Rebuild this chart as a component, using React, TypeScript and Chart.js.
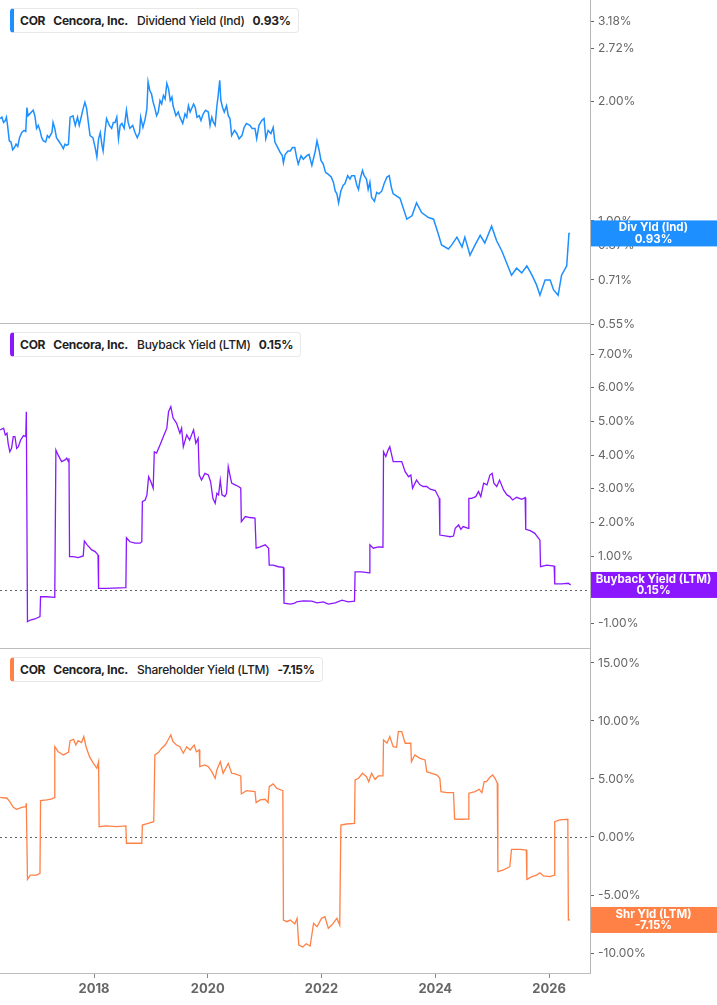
import React, { useEffect, useRef } from "react";
import { Chart, registerables } from "chart.js";

Chart.register(...registerables);

const FONT = "Inter, 'Noto Sans', sans-serif";
const TICKER = "COR";
const COMPANY = "Cencora, Inc.";

// x axis (decimal years)
const xMin = 2016.347;
const xMax = 2026.72;
const yearTicks = [2018, 2020, 2022, 2024, 2026];

// Dividend Yield (Ind), %
const dividendDates = [
  2016.35, 2016.38, 2016.41, 2016.44, 2016.46, 2016.48, 2016.51, 2016.54, 2016.57, 2016.6,
  2016.63, 2016.66, 2016.69, 2016.73, 2016.77, 2016.8, 2016.82, 2016.84, 2016.87, 2016.9,
  2016.93, 2016.96, 2016.99, 2017.02, 2017.05, 2017.08, 2017.11, 2017.15, 2017.18, 2017.21,
  2017.26, 2017.28, 2017.31, 2017.34, 2017.39, 2017.43, 2017.46, 2017.49, 2017.52, 2017.55,
  2017.58, 2017.63, 2017.67, 2017.71, 2017.74, 2017.78, 2017.81, 2017.84, 2017.87, 2017.9,
  2017.93, 2017.98, 2018.02, 2018.05, 2018.08, 2018.11, 2018.14, 2018.16, 2018.19, 2018.22,
  2018.27, 2018.31, 2018.34, 2018.37, 2018.4, 2018.43, 2018.46, 2018.49, 2018.53, 2018.57,
  2018.6, 2018.63, 2018.68, 2018.72, 2018.76, 2018.8, 2018.82, 2018.86, 2018.9, 2018.93,
  2018.95, 2018.98, 2019.01, 2019.04, 2019.07, 2019.1, 2019.13, 2019.16, 2019.19, 2019.22,
  2019.25, 2019.28, 2019.31, 2019.34, 2019.37, 2019.39, 2019.44, 2019.48, 2019.51, 2019.56,
  2019.6, 2019.63, 2019.66, 2019.69, 2019.75,
  2019.78, 2019.81, 2019.85, 2019.88, 2019.92, 2019.96, 2020.01, 2020.04, 2020.07, 2020.1,
  2020.13, 2020.16, 2020.18, 2020.21, 2020.23, 2020.26, 2020.29, 2020.33, 2020.36, 2020.39,
  2020.42, 2020.47, 2020.51, 2020.55, 2020.6, 2020.64, 2020.68, 2020.74, 2020.78, 2020.83,
  2020.86, 2020.9, 2020.95, 2020.99, 2021.02, 2021.06, 2021.11, 2021.15, 2021.18, 2021.23,
  2021.27, 2021.31, 2021.33, 2021.36, 2021.41, 2021.45, 2021.49, 2021.53, 2021.56, 2021.59,
  2021.64, 2021.68, 2021.74, 2021.78, 2021.83, 2021.89, 2021.92, 2021.96, 2021.99, 2022.03,
  2022.07, 2022.12, 2022.17, 2022.21, 2022.24, 2022.27, 2022.3, 2022.34, 2022.38, 2022.41,
  2022.46, 2022.5, 2022.53, 2022.58, 2022.62, 2022.65, 2022.68, 2022.72, 2022.75, 2022.79,
  2022.82, 2022.85, 2022.88, 2022.93, 2022.97, 2023.01, 2023.06, 2023.1, 2023.15, 2023.19,
  2023.23, 2023.26,
  2023.38, 2023.5, 2023.59, 2023.67, 2023.76, 2023.88, 2023.97, 2024.05, 2024.11, 2024.23,
  2024.29, 2024.38, 2024.47, 2024.52, 2024.61, 2024.7, 2024.79, 2024.87, 2024.99, 2025.08,
  2025.17, 2025.26, 2025.34, 2025.43, 2025.52, 2025.61, 2025.7, 2025.78, 2025.84, 2025.93,
  2026.02, 2026.08, 2026.16, 2026.22, 2026.31, 2026.35, 2026.37,
];
const dividendValues = [
  1.81, 1.825, 1.77, 1.79, 1.825, 1.74, 1.59, 1.58, 1.51, 1.53,
  1.56, 1.54, 1.62, 1.67, 1.69, 1.68, 1.93, 1.84, 1.86, 1.88,
  1.9, 1.84, 1.71, 1.74, 1.69, 1.62, 1.59, 1.58, 1.64, 1.62,
  1.67, 1.77, 1.71, 1.62, 1.58, 1.55, 1.52, 1.56, 1.55, 1.56,
  1.825, 1.84, 1.74, 1.825, 1.74, 1.84, 1.92, 1.99, 1.92, 1.77,
  1.64, 1.62, 1.53, 1.45, 1.61, 1.67, 1.55, 1.5, 1.66, 1.81,
  1.74, 1.71, 1.77, 1.77, 1.825, 1.61, 1.74, 1.76, 1.71, 1.9,
  1.77, 1.71, 1.74, 1.67, 1.62, 1.67, 1.825, 1.72, 1.81, 1.92,
  2.24, 2.13, 2.09, 1.99, 1.92, 1.84, 1.88, 2.01, 1.97, 2.07,
  2.03, 2.22, 2.15, 2.01, 2.05, 1.95, 1.84, 1.88, 1.825, 1.76,
  1.86, 1.825, 1.95, 1.88, 1.97,
  1.93, 1.825, 1.84, 1.79, 1.86, 1.9, 1.88, 1.74, 1.825, 1.77,
  1.74, 1.95, 2.05, 2.26, 2.01, 1.93, 1.88, 1.95, 1.84, 1.81,
  1.64, 1.69, 1.66, 1.61, 1.64, 1.72, 1.76, 1.74, 1.71, 1.71,
  1.61, 1.74, 1.79, 1.81, 1.61, 1.69, 1.66, 1.72, 1.58, 1.53,
  1.49, 1.46, 1.4, 1.47, 1.5, 1.5, 1.53, 1.53, 1.45, 1.39,
  1.46, 1.43, 1.46, 1.47, 1.38, 1.5, 1.59, 1.5, 1.42, 1.39,
  1.325, 1.31, 1.29, 1.25, 1.19, 1.17, 1.11, 1.19, 1.23, 1.24,
  1.3, 1.275, 1.3, 1.3, 1.23, 1.2, 1.275, 1.34, 1.3, 1.275,
  1.2, 1.25, 1.145, 1.12, 1.18, 1.17, 1.19, 1.24, 1.29, 1.3,
  1.21, 1.17,
  1.14, 1.01, 1.03, 1.11, 1.05, 1.02, 1.01, 0.93, 0.87, 0.85,
  0.87, 0.91, 0.86, 0.91, 0.82, 0.87, 0.92, 0.88, 0.97, 0.89,
  0.84, 0.78, 0.73, 0.76, 0.74, 0.77, 0.73, 0.69, 0.65, 0.71,
  0.71, 0.67, 0.65, 0.73, 0.77, 0.93, 0.93,
];
const dividendTicks = [0.55, 0.71, 0.87, 1.0, 2.0, 2.72, 3.18];

// Buyback Yield (LTM), %
const buybackDates = [
  2016.35, 2016.41, 2016.44, 2016.47, 2016.49, 2016.52, 2016.55, 2016.58, 2016.61, 2016.64,
  2016.67, 2016.71, 2016.76, 2016.8, 2016.81, 2016.83, 2016.88, 2016.96, 2017.05, 2017.06,
  2017.17, 2017.31, 2017.33, 2017.37, 2017.43, 2017.49, 2017.52, 2017.55, 2017.56, 2017.57,
  2017.64, 2017.72, 2017.81, 2017.83, 2017.88, 2017.96, 2018.02, 2018.07, 2018.08, 2018.22,
  2018.56, 2018.57, 2018.63, 2018.72, 2018.81, 2018.84, 2018.85, 2018.9, 2018.93, 2018.96,
  2019.0, 2019.04, 2019.06, 2019.1, 2019.16, 2019.22, 2019.28, 2019.31, 2019.35, 2019.39,
  2019.45, 2019.51, 2019.54, 2019.57, 2019.63, 2019.68, 2019.75, 2019.79, 2019.83, 2019.85,
  2019.89, 2019.95, 2020.01, 2020.05, 2020.09, 2020.13, 2020.16, 2020.19, 2020.22, 2020.25,
  2020.3, 2020.33, 2020.36, 2020.39, 2020.42, 2020.48, 2020.54, 2020.58, 2020.59, 2020.66,
  2020.74, 2020.83, 2020.85, 2020.92, 2021.01, 2021.07, 2021.08, 2021.15, 2021.24, 2021.33,
  2021.34, 2021.45, 2021.53, 2021.56, 2021.68, 2021.83, 2021.92, 2022.03, 2022.12, 2022.24,
  2022.36, 2022.47, 2022.58, 2022.59, 2022.71, 2022.84, 2022.85, 2022.91, 2023.0, 2023.08,
  2023.09, 2023.13, 2023.17, 2023.2, 2023.26, 2023.35, 2023.41, 2023.47, 2023.53, 2023.57,
  2023.6, 2023.67, 2023.73, 2023.79, 2023.85, 2023.91, 2024.0, 2024.07, 2024.08, 2024.2,
  2024.26, 2024.32, 2024.35, 2024.41, 2024.45, 2024.49, 2024.58, 2024.59, 2024.64, 2024.71,
  2024.76, 2024.8, 2024.85, 2024.91, 2024.96, 2025.0, 2025.03, 2025.08, 2025.13, 2025.2,
  2025.26, 2025.31, 2025.36, 2025.43, 2025.52, 2025.58, 2025.59, 2025.67, 2025.75, 2025.84,
  2025.85, 2025.96, 2026.09, 2026.1, 2026.22, 2026.34, 2026.38,
];
const buybackValues = [
  4.75, 4.8, 4.6, 4.65, 4.35, 4.1, 4.2, 4.55, 4.55, 4.2,
  4.25, 4.45, 4.58, 4.55, 5.29, -0.94, -0.89, -0.86, -0.79, -0.2,
  -0.2, -0.22, 4.15, 4.0, 3.81, 3.86, 3.91, 3.81, 3.91, 0.99,
  0.99, 0.96, 1.01, 1.45, 1.34, 1.19, 1.14, 1.04, 0.05, 0.05,
  0.07, 1.55, 1.43, 1.39, 1.39, 1.43, 2.62, 2.67, 2.82, 3.36,
  3.21, 3.02, 4.1, 4.06, 4.3, 4.55, 4.8, 5.29, 5.44, 5.1,
  4.95, 4.65, 4.8, 4.25, 4.6, 4.45, 4.75, 4.35, 4.5, 3.41,
  3.26, 3.46, 3.41, 3.21, 2.72, 2.57, 2.87, 2.82, 3.26, 2.82,
  2.77, 2.87, 3.66, 3.41, 3.17, 3.12, 3.07, 3.02, 2.03, 2.18,
  2.15, 2.13, 1.24, 1.28, 1.34, 1.24, 0.74, 0.74, 0.69, 0.67,
  -0.39, -0.42, -0.39, -0.35, -0.32, -0.33, -0.38, -0.35, -0.42, -0.38,
  -0.3, -0.35, -0.33, 0.54, 0.54, 0.51, 1.34, 1.24, 1.28, 1.27,
  4.1, 3.96, 4.15, 4.25, 3.81, 3.81, 3.81, 3.51, 3.36, 3.41,
  3.02, 3.26, 3.12, 3.07, 3.07, 2.99, 2.95, 2.72, 1.63, 1.6,
  1.58, 1.6, 1.83, 1.93, 1.8, 1.88, 1.83, 2.72, 2.72, 2.77,
  2.92, 2.77, 3.17, 3.12, 3.41, 3.46, 3.17, 3.07, 3.26, 2.97,
  2.82, 2.77, 2.67, 2.75, 2.69, 2.74, 1.8, 1.76, 1.68, 1.48,
  0.69, 0.74, 0.71, 0.18, 0.18, 0.2, 0.15,
];
const buybackTicks = [-1, 0, 1, 2, 3, 4, 5, 6, 7];

// Shareholder Yield (LTM), %
const shareholderDates = [
  2016.35, 2016.47, 2016.52, 2016.58, 2016.64, 2016.73, 2016.8, 2016.81, 2016.83, 2016.88,
  2016.99, 2017.05, 2017.06, 2017.17, 2017.26, 2017.3, 2017.31, 2017.37, 2017.46, 2017.55,
  2017.58, 2017.64, 2017.68, 2017.72, 2017.78, 2017.82, 2017.86, 2017.92, 2017.99, 2018.05,
  2018.08, 2018.09, 2018.22, 2018.4, 2018.56, 2018.57, 2018.69, 2018.84, 2018.85, 2018.95,
  2019.05, 2019.07, 2019.13, 2019.19, 2019.25, 2019.31, 2019.35, 2019.39, 2019.45, 2019.51,
  2019.57, 2019.63, 2019.69, 2019.76, 2019.8, 2019.85, 2019.86, 2019.95, 2020.01, 2020.07,
  2020.13, 2020.16, 2020.22, 2020.27, 2020.36, 2020.42, 2020.48, 2020.58, 2020.59, 2020.68,
  2020.83, 2020.85, 2020.92, 2021.01, 2021.06, 2021.08, 2021.15, 2021.21, 2021.32, 2021.33,
  2021.39, 2021.45, 2021.53, 2021.57, 2021.6, 2021.67, 2021.73, 2021.8, 2021.86, 2021.92,
  2022.0, 2022.06, 2022.12, 2022.18, 2022.27, 2022.32, 2022.34, 2022.44, 2022.58, 2022.59,
  2022.65, 2022.72, 2022.79, 2022.83, 2022.88, 2022.94, 2023.0, 2023.08, 2023.09, 2023.15,
  2023.2, 2023.26, 2023.32, 2023.35, 2023.41, 2023.47, 2023.57, 2023.58, 2023.64, 2023.73,
  2023.82, 2023.85, 2023.94, 2024.03, 2024.08, 2024.1, 2024.2, 2024.32, 2024.34, 2024.43,
  2024.58, 2024.59, 2024.7, 2024.77, 2024.82, 2024.86, 2024.9, 2024.96, 2025.01, 2025.05,
  2025.09, 2025.1, 2025.2, 2025.31, 2025.34, 2025.49, 2025.6, 2025.61, 2025.7, 2025.78,
  2025.84, 2025.9, 2026.02, 2026.09, 2026.1, 2026.19, 2026.33, 2026.34, 2026.37,
];
const shareholderValues = [
  3.42, 3.34, 3.05, 2.56, 2.39, 2.56, 2.61, 2.9, -3.65, -3.28,
  -3.28, -3.13, 3.13, 3.19, 3.28, 3.39, 7.78, 7.35, 7.07, 7.3,
  8.3, 8.42, 7.93, 8.3, 8.13, 8.65, 7.78, 6.92, 6.35, 5.92,
  6.49, 0.89, 0.95, 0.89, 0.95, -0.54, -0.54, -0.54, 1.03, 1.18,
  1.32, 7.07, 7.27, 7.65, 7.93, 8.42, 8.79, 8.22, 7.93, 7.78,
  7.22, 7.78, 7.5, 7.93, 7.35, 7.5, 6.06, 6.21, 6.06, 5.63,
  5.06, 5.78, 6.49, 5.49, 6.35, 5.49, 5.43, 5.26, 3.71, 3.99,
  3.91, 2.96, 3.19, 3.25, 2.96, 4.34, 4.57, 4.2, 3.99, -7.16,
  -7.3, -7.16, -7.5, -7.01, -9.31, -9.48, -9.2, -9.4, -7.44, -7.73,
  -7.01, -6.87, -7.87, -7.59, -7.01, -7.59, 1.03, 1.12, 1.18, 4.91,
  5.06, 5.49, 5.2, 4.77, 5.49, 4.97, 5.26, 5.26, 8.36, 8.08,
  8.65, 7.78, 7.73, 9.08, 9.08, 8.08, 8.08, 6.49, 7.07, 6.78,
  6.64, 5.63, 5.49, 5.34, 5.06, 3.91, 3.82, 3.82, 1.55, 1.53,
  1.55, 3.77, 3.91, 4.11, 3.82, 4.77, 4.77, 5.15, 5.34, 5.06,
  4.63, -2.99, -2.84, -2.56, -1.06, -1.06, -1.12, -3.65, -3.42, -3.28,
  -3.08, -3.36, -3.42, -3.28, 1.32, 1.47, 1.53, -7.16, -7.15,
];
const shareholderTicks = [-10, -5, 0, 5, 10, 15];

// extra canvas room around each panel so edge tick labels are not clipped
const BLEED = 10;

type PanelProps = {
  top: number;
  height: number;
  dates: number[];
  values: number[];
  ticks: number[];
  color: string;
  lineWidth: number;
  logScale?: boolean;
  yMin: number;
  yMax: number;
  zeroLine?: boolean;
  showX?: boolean;
  metric: string;
  valueText: string;
  badgeTitle: string;
};

function LegendBox({ color, metric, valueText, top }: { color: string; metric: string; valueText: string; top: number }) {
  return (
    <div
      style={{
        position: "absolute",
        left: 10,
        top,
        height: 25,
        display: "flex",
        alignItems: "center",
        background: "#fff",
        border: "1px solid #e8e8e8",
        borderLeft: `4px solid ${color}`,
        borderRadius: 4,
        padding: "0 7px 0 6px",
        boxSizing: "border-box",
        fontFamily: FONT,
        fontSize: 12,
        letterSpacing: -0.25,
        fontWeight: 600,
        color: "#222",
        whiteSpace: "nowrap",
      }}
    >
      <span style={{ fontWeight: 700 }}>{TICKER}</span>
      <span style={{ marginLeft: 8, fontWeight: 700 }}>{COMPANY}</span>
      <span style={{ marginLeft: 9, fontWeight: 500 }}>{metric}</span>
      <span style={{ marginLeft: 8, fontWeight: 700 }}>{valueText}</span>
    </div>
  );
}

function Panel(p: PanelProps) {
  const canvasRef = useRef<HTMLCanvasElement>(null);
  const chartRef = useRef<Chart | null>(null);
  const padTop = p.top > 0 ? BLEED : 0;
  const padBottom = p.showX ? 0 : BLEED;
  const canvasH = p.height + padTop + padBottom;

  useEffect(() => {
    if (!canvasRef.current) return;
    if (chartRef.current) chartRef.current.destroy();

    const decor = {
      id: "panelDecor",
      beforeDatasetsDraw(chart: any) {
        const { ctx, chartArea } = chart;
        if (p.zeroLine) {
          const y0 = Math.round(chart.scales.y.getPixelForValue(0)) + 0.5;
          ctx.save();
          ctx.strokeStyle = "#666";
          ctx.lineWidth = 1;
          ctx.setLineDash([2, 3]);
          ctx.beginPath();
          ctx.moveTo(chartArea.left, y0);
          ctx.lineTo(chartArea.right, y0);
          ctx.stroke();
          ctx.restore();
        }
      },
      afterDraw(chart: any) {
        const { ctx, chartArea, width } = chart;
        if (!p.showX) {
          ctx.save();
          ctx.strokeStyle = "#bdbdbd";
          ctx.lineWidth = 1;
          ctx.beginPath();
          ctx.moveTo(chartArea.left, chartArea.bottom - 0.5);
          ctx.lineTo(chartArea.right, chartArea.bottom - 0.5);
          ctx.stroke();
          ctx.restore();
        }
        const last = p.values[p.values.length - 1];
        const yc = chart.scales.y.getPixelForValue(last);
        const h = 26;
        ctx.save();
        ctx.fillStyle = p.color;
        ctx.fillRect(chartArea.right + 1, yc - h / 2, width - chartArea.right - 1, h);
        ctx.fillStyle = "#fff";
        ctx.font = `700 11.5px ${FONT}`;
        ctx.textAlign = "center";
        ctx.textBaseline = "middle";
        const cx = (chartArea.right + width) / 2;
        ctx.fillText(p.badgeTitle, cx, yc - 5.5);
        ctx.fillText(p.valueText, cx, yc + 6);
        ctx.restore();
      },
    };

    const ctx = canvasRef.current.getContext("2d");
    if (!ctx) return;
    chartRef.current = new Chart(ctx, {
      type: "line",
      data: {
        datasets: [
          {
            data: p.dates.map((d, i) => ({ x: d, y: p.values[i] })),
            borderColor: p.color,
            borderWidth: p.lineWidth,
            pointRadius: 0,
            tension: 0,
            fill: false,
          },
        ],
      },
      options: {
        responsive: false,
        animation: false,
        layout: { padding: { top: padTop, bottom: padBottom, left: 0, right: 0 } },
        plugins: { legend: { display: false }, tooltip: { enabled: false } },
        scales: {
          x: {
            type: "linear",
            min: xMin,
            max: xMax,
            display: !!p.showX,
            afterBuildTicks: (s: any) => {
              s.ticks = yearTicks.map((v) => ({ value: v }));
            },
            afterFit: (s: any) => {
              if (p.showX) s.height = 32;
              s.paddingLeft = 0;
              s.paddingRight = 0;
            },
            grid: { drawOnChartArea: false, tickLength: 5, color: "#888" },
            border: { display: true, color: "#bdbdbd" },
            ticks: {
              padding: 3,
              color: "#666",
              font: { family: FONT, size: 13, weight: "bold" },
              callback: (v: any) => String(v),
            },
          },
          y: {
            type: p.logScale ? "logarithmic" : "linear",
            position: "right",
            min: p.yMin,
            max: p.yMax,
            afterBuildTicks: (s: any) => {
              s.ticks = p.ticks.map((v) => ({ value: v }));
            },
            afterFit: (s: any) => {
              s.width = 127;
              s.paddingTop = 0;
              s.paddingBottom = 0;
            },
            grid: { drawOnChartArea: false, tickLength: 4, color: "#666" },
            border: { display: true, color: "#b5b5b5" },
            ticks: {
              padding: 4,
              color: "#666",
              font: { family: FONT, size: 12 },
              callback: (v: any) => Number(v).toFixed(2) + "%",
            },
          },
        },
      },
      plugins: [decor],
    } as any);

    return () => {
      if (chartRef.current) {
        chartRef.current.destroy();
        chartRef.current = null;
      }
    };
  }, [p]);

  return (
    <div style={{ position: "absolute", left: 0, top: p.top - padTop, width: 717, height: canvasH }}>
      <canvas ref={canvasRef} width={717} height={canvasH} style={{ display: "block" }} />
      <LegendBox color={p.color} metric={p.metric} valueText={p.valueText} top={padTop + 8} />
    </div>
  );
}

const BLUE = "#1e8fff";
const PURPLE = "#8a17ff";
const ORANGE = "#ff8146";

export default function App() {
  return (
    <div style={{ position: "absolute", left: 0, top: 0, width: 717, height: 1005, background: "#fff" }}>
      <Panel
        top={0}
        height={324}
        dates={dividendDates}
        values={dividendValues}
        ticks={dividendTicks}
        color={BLUE}
        lineWidth={1.5}
        logScale
        yMin={0.55}
        yMax={3.6}
        metric="Dividend Yield (Ind)"
        valueText="0.93%"
        badgeTitle="Div Yld (Ind)"
      />
      <Panel
        top={324}
        height={325}
        dates={buybackDates}
        values={buybackValues}
        ticks={buybackTicks}
        color={PURPLE}
        lineWidth={1.3}
        yMin={-1.75}
        yMax={7.89}
        zeroLine
        metric="Buyback Yield (LTM)"
        valueText="0.15%"
        badgeTitle="Buyback Yield (LTM)"
      />
      <Panel
        top={649}
        height={356}
        dates={shareholderDates}
        values={shareholderValues}
        ticks={shareholderTicks}
        color={ORANGE}
        lineWidth={1.3}
        yMin={-11.72}
        yMax={16.2}
        zeroLine
        showX
        metric="Shareholder Yield (LTM)"
        valueText="-7.15%"
        badgeTitle="Shr Yld (LTM)"
      />
    </div>
  );
}
